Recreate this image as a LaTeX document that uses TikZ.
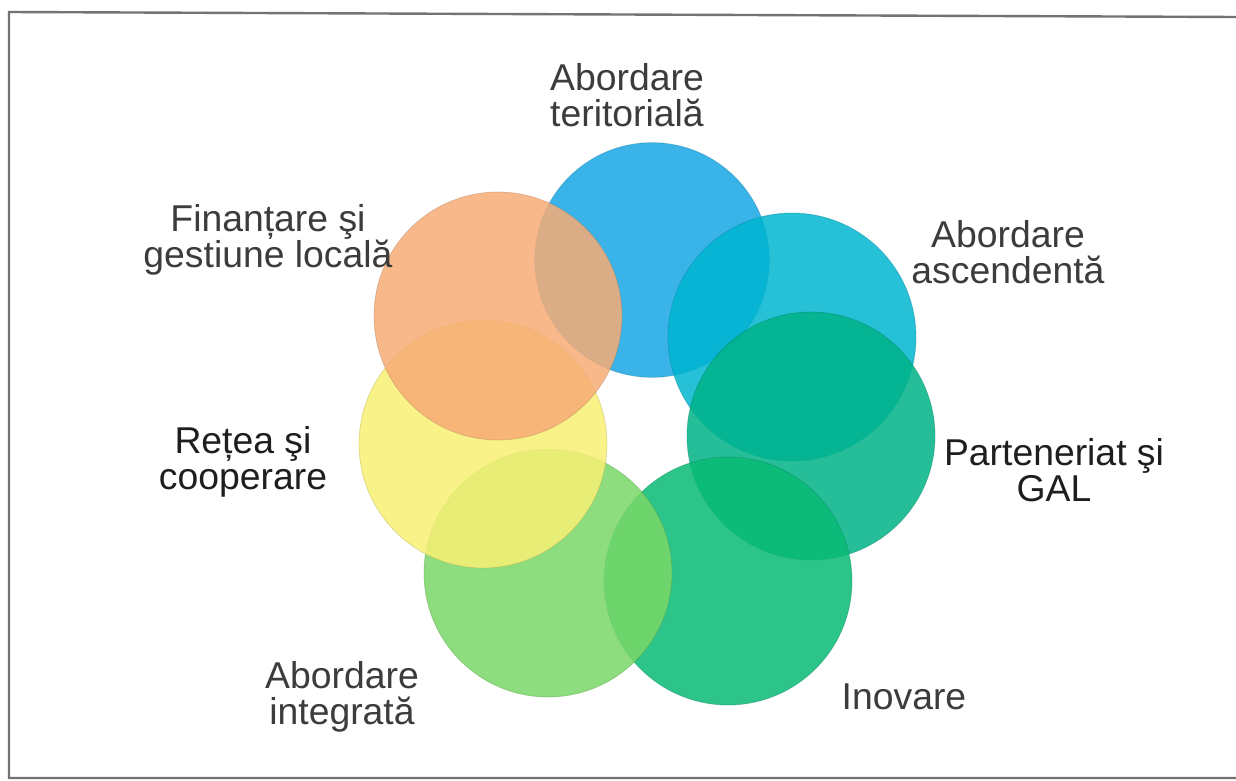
\documentclass[tikz,border=0pt]{standalone}
\usepackage{fontspec}
\setmainfont{Liberation Sans}
\definecolor{cBlue}{RGB}{24,167,228}
\definecolor{cTeal}{RGB}{0,181,209}
\definecolor{cGal}{RGB}{0,179,136}
\definecolor{cInov}{RGB}{8,186,117}
\definecolor{cLgreen}{RGB}{122,215,103}
\definecolor{cYellow}{RGB}{249,240,117}
\definecolor{cOrange}{RGB}{247,172,118}
\definecolor{txt}{RGB}{60,60,60}
\definecolor{txtdark}{RGB}{30,30,30}
\definecolor{frameGray}{RGB}{115,115,115}
\begin{document}
\begin{tikzpicture}[x=0.75pt,y=-0.75pt,
  bubble/.style={circle, inner sep=0pt, minimum size=186pt, fill=#1, fill opacity=0.85,
     draw=#1!70!black, draw opacity=0.35, line width=0.6pt},
  lbl/.style={align=center, inner sep=0pt, text=txt,
     font=\fontsize{28pt}{27pt}\selectfont},
  frameline/.style={draw=frameGray, line width=1.8pt}]
\useasboundingbox (0,0) rectangle (1236,781);
\fill[white] (0,0) rectangle (1236,781);
\draw[frameline] (1236,17) -- (9,12) -- (9,778) -- (1236,778);

\node[bubble=cBlue, minimum size=176pt] (blue) at (652,260) {};
\node[bubble=cTeal] (teal) at (792,337) {};
\node[bubble=cGal] (gal) at (811,436) {};
\node[bubble=cInov] (inov) at (728,581) {};
\node[bubble=cLgreen] (lgreen) at (548,573) {};
\node[bubble=cYellow] (yellow) at (483,444) {};
\node[bubble=cOrange] (orange) at (498,316) {};

\node[lbl] (tTer) at (627,95) {Abordare\\teritorială};
\node[lbl] (tFin) at (268,240) {Finanțare şi\\gestiune locală};
\node[lbl] (tAsc) at (1008,252) {Abordare\\ascendentă};
\node[lbl, text=txtdark] (tRet) at (243,462) {Rețea şi\\cooperare};
\node[lbl, text=txtdark] (tGal) at (1054,470) {Parteneriat şi\\GAL};
\node[lbl] (tInt) at (342,697) {Abordare\\integrată};
\node[lbl] (tInov) at (904,697) {Inovare};
\end{tikzpicture}
\end{document}
